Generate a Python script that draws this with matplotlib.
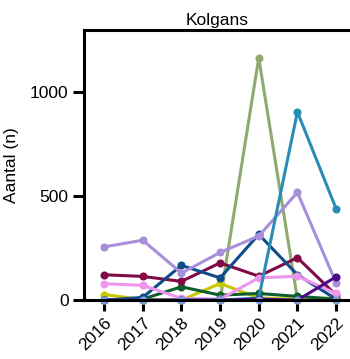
import matplotlib
matplotlib.use("Agg")
import matplotlib.pyplot as plt

plt.rcParams['font.family'] = ['Liberation Sans', 'DejaVu Sans']

years = [2016, 2017, 2018, 2019, 2020, 2021, 2022]

# Counts per location (n)
olive = [0, 0, 0, 0, 1165, 5, 0]
teal = [0, 0, 0, 0, 10, 905, 440]
lavender = [256, 288, 130, 229, 308, 518, 83]
maroon = [122, 114, 90, 179, 115, 204, 24]
violet = [79, 71, 8, 5, 107, 115, 32]
darkblue = [0, 13, 167, 107, 316, 122, 5]
darkgreen = [0, 5, 64, 24, 32, 18, 5]
yellow = [27, 3, 0, 80, 10, 5, 10]
indigo = [0, 0, 0, 0, 5, 0, 112]
lightblue = [0, 0, 0, 0, 0, 0, 0]

series = [
    (olive, '#8eaa6e'),
    (yellow, '#c9c800'),
    (darkgreen, '#0d5e2c'),
    (maroon, '#7f0a45'),
    (darkblue, '#0f4c8a'),
    (lavender, '#a88fdb'),
    (violet, '#ee96ee'),
    (teal, '#2a8db5'),
    (indigo, '#4b0a8a'),
    (lightblue, '#7ea3d6'),
]

fig = plt.figure(figsize=(3.5, 3.59), dpi=100)
ax = fig.add_axes([0.24, 0.164, 0.76, 0.752])

for vals, col in series:
    ax.plot(years, vals, color=col, lw=2.2, marker='o', ms=4.8,
            solid_capstyle='round', clip_on=False)

ax.set_xlim(2015.48, 2022.36)
ax.set_ylim(0, 1298)
ax.set_xticks(years)
ax.set_xticklabels([str(y) for y in years], rotation=45, ha='right',
                   rotation_mode='anchor', fontsize=12.5)
ax.set_yticks([0, 500, 1000])
ax.set_yticklabels(['0', '500', '1000'], fontsize=12.5)
ax.set_ylabel('Aantal (n)', fontsize=12.5, labelpad=8)
ax.set_title('Kolgans', fontsize=12.5, pad=4)

for s in ['left', 'bottom', 'top']:
    ax.spines[s].set_linewidth(2.2)
ax.spines['right'].set_visible(False)
ax.tick_params(axis='both', width=2.2, length=8, direction='out', pad=3)

fig.savefig('out.png', dpi=100)
